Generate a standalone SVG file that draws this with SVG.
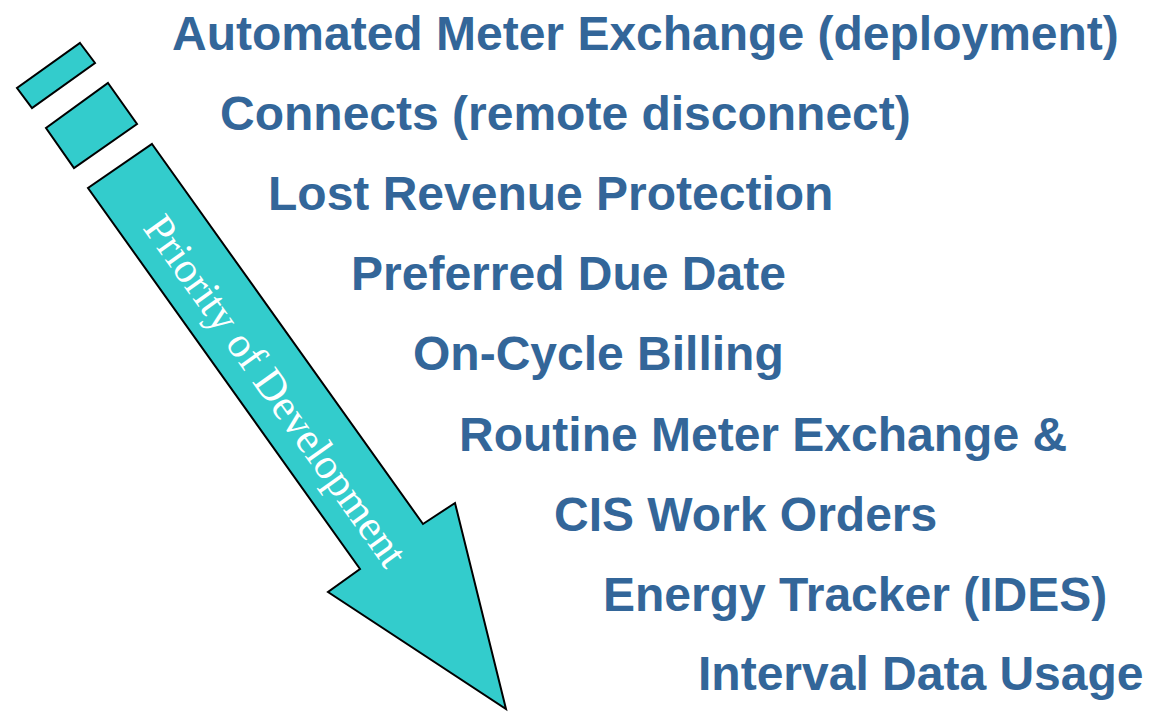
<svg xmlns="http://www.w3.org/2000/svg" width="1153" height="713" viewBox="0 0 1153 713">
<style>
.shape{fill:#33CCCC;stroke:#000;stroke-width:2;stroke-linejoin:miter}
.item{font-family:"Liberation Sans",Arial,sans-serif;font-weight:bold;font-size:48px;fill:#336699}
.label{font-family:"Liberation Serif","Times New Roman",serif;font-size:43px;fill:#fff}
</style>
<rect width="1153" height="713" fill="#fff"/>
<g id="arrow">
<polygon class="shape" points="80,43 95,63 32,108 17,88"/>
<polygon class="shape" points="108,83 137,124 74,168 46,128"/>
<polygon class="shape" points="152,144 423,524 455,503 506,709 328,592 360,569 88,188"/>
<text class="label" transform="translate(264,399) rotate(54.5)" text-anchor="middle">Priority of Development</text>
</g>
<g id="items">
<text id="t1" class="item" x="172" y="50">Automated Meter Exchange (deployment)</text>
<text id="t2" class="item" x="220" y="130">Connects (remote disconnect)</text>
<text id="t3" class="item" x="268" y="210">Lost Revenue Protection</text>
<text id="t4" class="item" x="351" y="290">Preferred Due Date</text>
<text id="t5" class="item" x="413" y="370">On-Cycle Billing</text>
<text id="t6" class="item" x="459" y="451">Routine Meter Exchange &amp;</text>
<text id="t7" class="item" x="554" y="531">CIS Work Orders</text>
<text id="t8" class="item" x="603" y="611">Energy Tracker (IDES)</text>
<text id="t9" class="item" x="698" y="690">Interval Data Usage</text>
</g>
</svg>
